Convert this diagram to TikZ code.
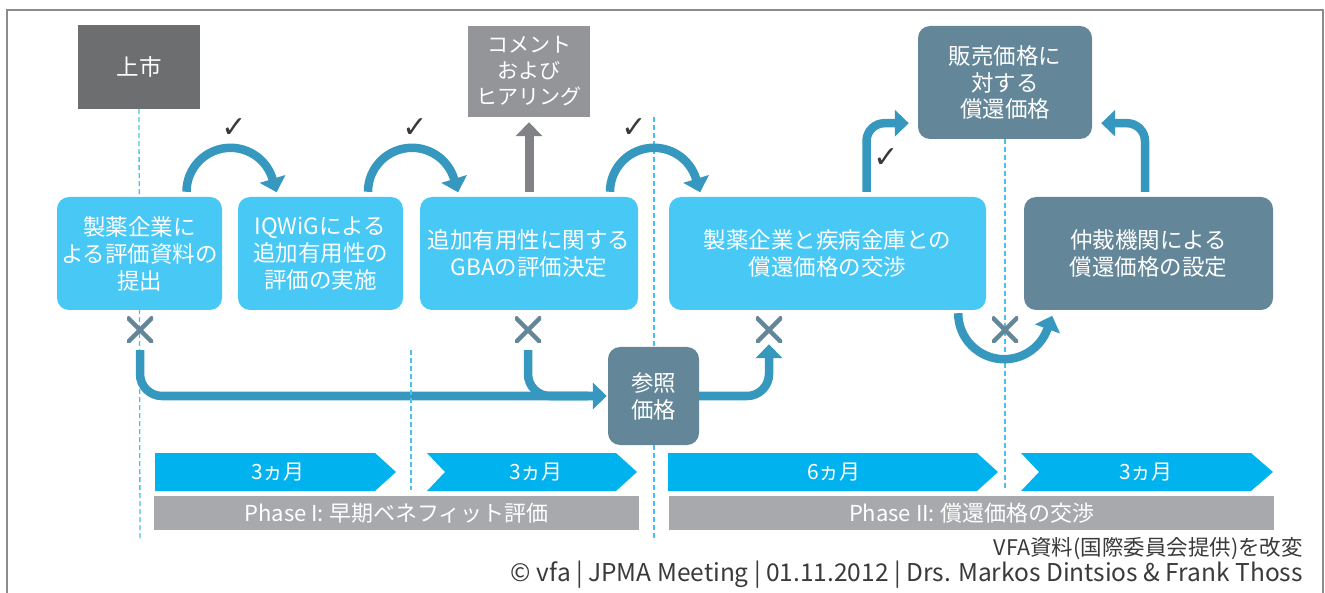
\documentclass[tikz,border=0pt]{standalone}
\usepackage{fontspec}
\setmainfont{Noto Sans CJK JP}
\newfontfamily\symfont{DejaVu Sans}
\usetikzlibrary{arrows.meta}
\definecolor{boxblue}{HTML}{47C8F5}
\definecolor{tlblue}{HTML}{00B2EE}
\definecolor{slateblue}{HTML}{638699}
\definecolor{conncol}{HTML}{3698BF}
\definecolor{shijogray}{HTML}{6D6E70}
\definecolor{commentgray}{HTML}{939598}
\definecolor{upgray}{HTML}{808285}
\definecolor{phasegray}{HTML}{A7A9AC}
\definecolor{framegray}{HTML}{8C8C8C}
\definecolor{textdark}{HTML}{3A3A3A}
\definecolor{dashblue}{HTML}{45C3F0}
\tikzset{
  bluebox/.style={fill=boxblue, rounded corners=12pt, minimum height=113pt, inner sep=0pt,
    align=center, text=white, font=\fontsize{22.5}{27}\selectfont},
  slatebox/.style={bluebox, fill=slateblue},
  sqbox/.style={inner sep=0pt, align=center, text=white, font=\fontsize{22.5}{26}\selectfont},
  conn/.style={draw=conncol, line width=8.5pt},
  endtip/.style={-{Triangle[width=26pt,length=14pt]}},
  guide/.style={draw=dashblue, line width=1.3pt, dash pattern=on 5pt off 3pt},
  crossmark/.style={minimum width=26pt, minimum height=26pt, inner sep=0pt,
    path picture={\draw[slateblue, line width=4.5pt]
      (path picture bounding box.north west) -- (path picture bounding box.south east)
      (path picture bounding box.north east) -- (path picture bounding box.south west);}},
  tlshape/.style={fill=tlblue},
  tltext/.style={text=white, inner sep=0pt, font=\fontsize{21}{24}\selectfont},
  phasebar/.style={fill=phasegray, minimum height=34pt, inner sep=0pt, text=white,
    font=\fontsize{22}{24}\selectfont},
  chk/.style={text=textdark, inner sep=0pt, font=\symfont\bfseries\fontsize{30}{30}\selectfont},
  credit/.style={text=textdark, anchor=east, inner sep=0pt}
}
\begin{document}
\begin{tikzpicture}[x=1pt,y=1pt]
\useasboundingbox (0,0) rectangle (1325,-593);
% frame
\draw[framegray, line width=2pt] (7,-593) -- (7,-10) -- (1323,-10) -- (1323,-593);

% top boxes
\node[sqbox, fill=shijogray, minimum width=122pt, minimum height=84pt] (shijo) at (139,-67) {上市};
\node[sqbox, fill=commentgray, minimum width=122pt, minimum height=91pt,
      font=\fontsize{21}{26}\selectfont] (comment) at (529,-71.5) {コメント\\および\\ヒアリング};

% guide lines (behind)
\draw[guide] (shijo.south) -- (140,-538);
\draw[guide] (654,-117) -- (654,-538);
\draw[guide] (1005,-139) -- (1005,-490);

% main boxes
\node[bluebox, minimum width=165pt] (b1) at (139.5,-253.5) {製薬企業に\\よる評価資料の\\提出};
\node[bluebox, minimum width=165pt] (b2) at (320.5,-253.5) {IQWiGによる\\追加有用性の\\評価の実施};
\node[bluebox, minimum width=218pt] (b3) at (529,-253.5) {追加有用性に関する\\GBAの評価決定};
\node[bluebox, minimum width=317pt] (b4) at (827.5,-253.5) {製薬企業と疾病金庫との\\償還価格の交渉};
\node[slatebox, minimum width=249pt] (b5) at (1148.5,-253.5) {仲裁機関による\\償還価格の設定};
\node[slatebox, minimum width=174pt, font=\fontsize{22.5}{26.5}\selectfont] (b6) at (1005,-82.5) {販売価格に\\対する\\償還価格};
\node[slatebox, minimum width=91pt, minimum height=98pt] (ref) at (653.5,-396) {参照\\価格};

% crosses
\node[crossmark] (x1) at (140,-330) {};
\node[crossmark] (x2) at (528,-330) {};
\node[crossmark] (x3) at (769,-330) {};
\node[crossmark] (x4) at (1005,-330) {};

% curved arrows between boxes
\draw[conn, endtip] ([xshift=47pt,yshift=5pt]b1.north) arc[start angle=180, end angle=17, radius=44pt] -- ++(-73:14pt);
\draw[conn, endtip] ([xshift=47.5pt,yshift=5pt]b2.north) arc[start angle=180, end angle=17, radius=44pt] -- ++(-73:14pt);
\draw[conn, endtip] ([xshift=81pt,yshift=5pt]b3.north) arc[start angle=180, end angle=17, radius=44pt] -- ++(-73:14pt);

% up arrow to comment
\draw[draw=upgray, line width=9pt, -{Triangle[width=26pt,length=14pt]}] ([yshift=5pt]b3.north) -- ([yshift=-5pt]comment.south);

% arrows to b6
\draw[conn, endtip, rounded corners=18pt] ([xshift=39pt,yshift=5pt]b4.north) |- ([xshift=-9pt,yshift=16pt]b6.south west);
\draw[conn, endtip, rounded corners=18pt] ([xshift=-3.5pt,yshift=5pt]b5.north) |- ([xshift=9pt,yshift=16pt]b6.south east);

% bottom connectors
\draw[conn, rounded corners=22pt] ([yshift=-7pt]x2.south) |- ([xshift=-20pt]ref.west);
\draw[conn, endtip, rounded corners=22pt] ([yshift=-7pt]x1.south) |- ([xshift=-1pt]ref.west);
\draw[conn, endtip, rounded corners=22pt] (ref.east) -| ([yshift=-1pt]x3.south);
\draw[conn, endtip] ([xshift=-28pt,yshift=-3pt]b4.south east) arc[start angle=180, end angle=340, radius=46pt] -- ++(70:14pt);

% guide line in front of connector
\draw[guide] (411,-350) -- (411,-490);

% check marks
\node[chk] (c1) at (234,-128) {✓};
\node[chk] (c2) at (415,-128) {✓};
\node[chk] (c3) at (634,-128) {✓};
\node[chk] (c4) at (886,-158) {✓};

% timeline
\path[tlshape] (155,-453) -- (375,-453) -- (396,-472) -- (375,-491) -- (155,-491) -- cycle;
\path[tlshape] (427,-453) -- (616,-453) -- (637,-472) -- (616,-491) -- (427,-491) -- (445,-472) -- cycle;
\path[tlshape] (668,-453) -- (977,-453) -- (998,-472) -- (977,-491) -- (668,-491) -- cycle;
\path[tlshape] (1021,-453) -- (1251,-453) -- (1273,-472) -- (1251,-491) -- (1021,-491) -- (1039,-472) -- cycle;
\node[tltext] (t1) at (278,-472) {3ヵ月};
\node[tltext] (t2) at (536,-472) {3ヵ月};
\node[tltext] (t3) at (834,-472) {6ヵ月};
\node[tltext] (t4) at (1146,-472) {3ヵ月};

% phases
\node[phasebar, minimum width=485pt] (p1) at (396.5,-513) {Phase I: 早期ベネフィット評価};
\node[phasebar, minimum width=605pt] (p2) at (971.5,-513) {Phase II: 償還価格の交渉};

% credits
\node[credit, font=\fontsize{21.5}{24}\selectfont] (cr1) at (1303,-549) {VFA資料(国際委員会提供)を改変};
\node[credit, font=\fontsize{24.5}{26}\selectfont] (cr2) at (1303,-575) {© vfa | JPMA Meeting | 01.11.2012 | Drs. Markos Dintsios \& Frank Thoss};
\end{tikzpicture}
\end{document}
